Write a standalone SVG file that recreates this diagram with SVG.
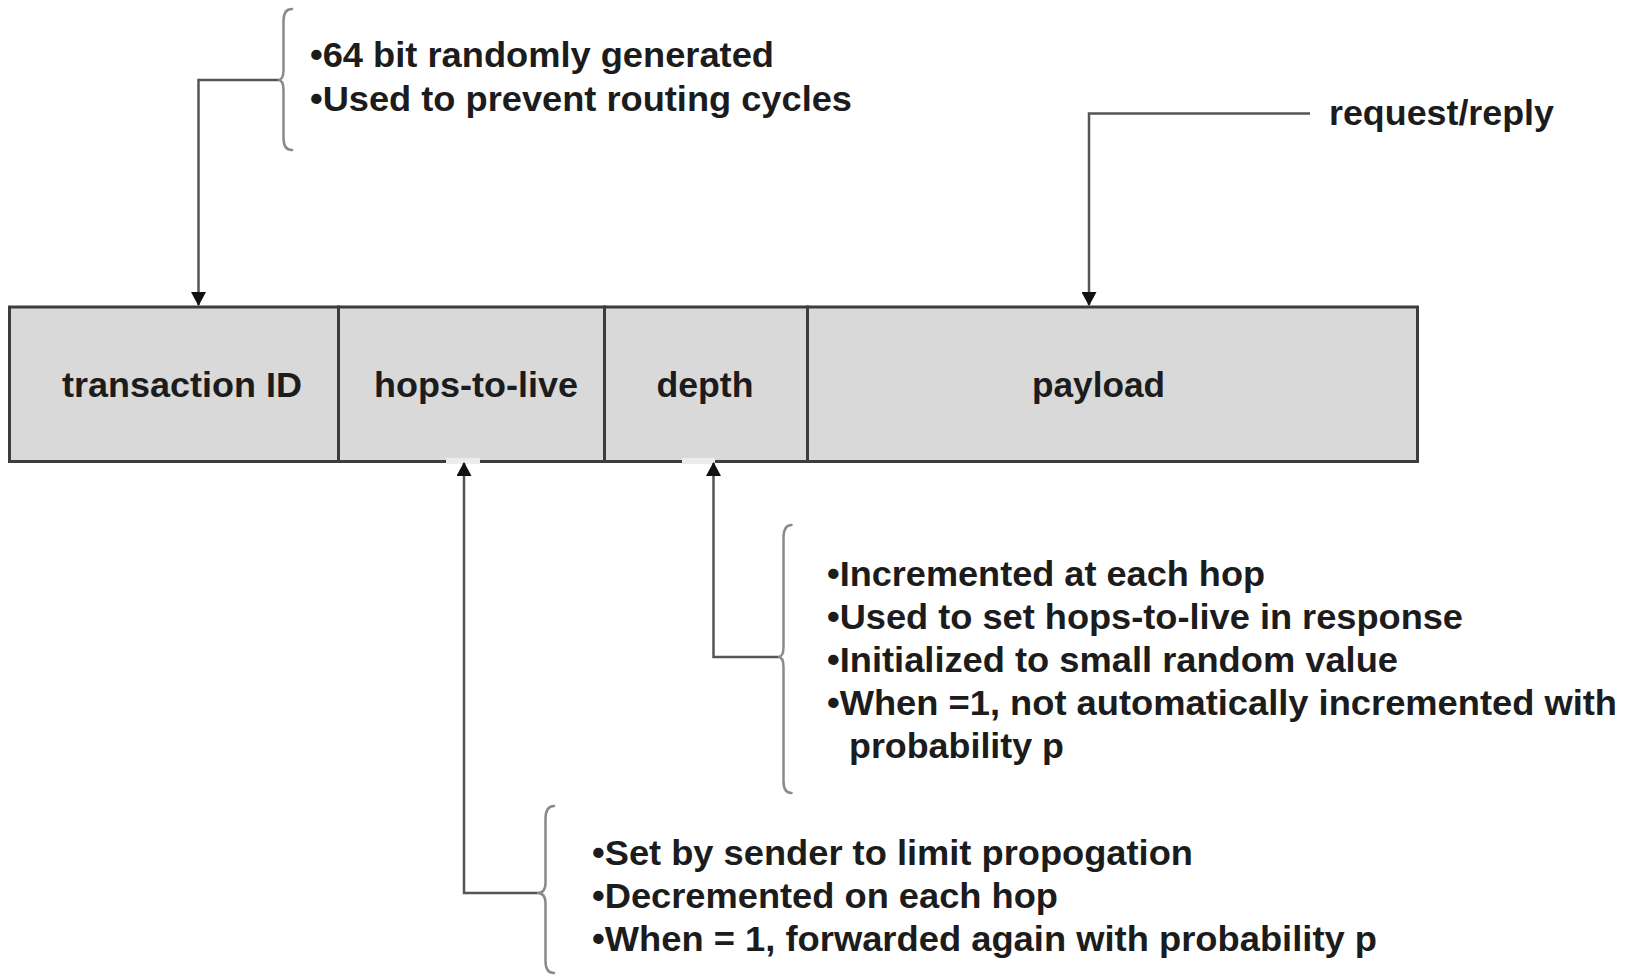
<svg xmlns="http://www.w3.org/2000/svg" width="1629" height="977" viewBox="0 0 1629 977">
  <style>
    .txt { font-family: "Liberation Sans", Arial, sans-serif; font-weight: bold; font-size: 35px; fill: #1c1c1c; }
    .mid { text-anchor: middle; }
    .field { fill: #d9d9d9; stroke: #3c3c3c; stroke-width: 3; }
    .wire { fill: none; stroke: #555555; stroke-width: 2.5; }
    .brace { fill: none; stroke: #8a8a8a; stroke-width: 2.5; stroke-linecap: round; }
  </style>
  <defs>
    <marker id="arrow" viewBox="0 0 14 15" refX="13" refY="7.5" markerWidth="14" markerHeight="15" markerUnits="userSpaceOnUse" orient="auto">
      <path d="M0,0 L14,7.5 L0,15 Z" fill="#111111"/>
    </marker>
  </defs>

  <rect width="1629" height="977" fill="#ffffff"/>

  <!-- message fields -->
  <g id="field-transaction-id">
    <rect class="field" x="9.5" y="307" width="329" height="154.5"/>
    <text class="txt mid" x="182" y="397" textLength="240" lengthAdjust="spacingAndGlyphs">transaction ID</text>
  </g>
  <g id="field-hops-to-live">
    <rect class="field" x="338.5" y="307" width="266" height="154.5"/>
    <text class="txt mid" x="476" y="397" textLength="204" lengthAdjust="spacingAndGlyphs">hops-to-live</text>
  </g>
  <g id="field-depth">
    <rect class="field" x="604.5" y="307" width="203" height="154.5"/>
    <text class="txt mid" x="705" y="397" textLength="97" lengthAdjust="spacingAndGlyphs">depth</text>
  </g>
  <g id="field-payload">
    <rect class="field" x="807.5" y="307" width="610" height="154.5"/>
    <text class="txt mid" x="1098.5" y="397" textLength="133" lengthAdjust="spacingAndGlyphs">payload</text>
  </g>
  <!-- openings in the lower edge where the arrows enter -->
  <rect x="446" y="458" width="34" height="6" fill="#ececec"/>
  <rect x="682" y="458" width="33" height="6" fill="#ececec"/>

  <!-- annotations -->
  <g id="note-transaction-id">
    <path class="brace" d="M292,9 Q283.5,9 283.5,21 L283.5,70 Q283.5,80 278,80 Q283.5,80 283.5,90 L283.5,138 Q283.5,150 292,150"/>
    <text class="txt" x="310" y="67" textLength="464" lengthAdjust="spacingAndGlyphs">•64 bit randomly generated</text>
    <text class="txt" x="310" y="111" textLength="542" lengthAdjust="spacingAndGlyphs">•Used to prevent routing cycles</text>
  </g>
  <g id="note-payload">
    <text class="txt" x="1329" y="125" textLength="225" lengthAdjust="spacingAndGlyphs">request/reply</text>
  </g>
  <g id="note-depth">
    <path class="brace" d="M791.5,525 Q783.5,525 783.5,538 L783.5,647 Q783.5,657 778,657 Q783.5,657 783.5,667 L783.5,781 Q783.5,793 791.5,793"/>
    <text class="txt" x="827" y="586" textLength="438" lengthAdjust="spacingAndGlyphs">•Incremented at each hop</text>
    <text class="txt" x="827" y="629" textLength="636" lengthAdjust="spacingAndGlyphs">•Used to set hops-to-live in response</text>
    <text class="txt" x="827" y="672" textLength="571" lengthAdjust="spacingAndGlyphs">•Initialized to small random value</text>
    <text class="txt" x="827" y="715" textLength="790" lengthAdjust="spacingAndGlyphs">•When =1, not automatically incremented with</text>
    <text class="txt" x="849" y="758" textLength="215" lengthAdjust="spacingAndGlyphs">probability p</text>
  </g>
  <g id="note-hops-to-live">
    <path class="brace" d="M554,806 Q545.5,806 545.5,819 L545.5,883 Q545.5,893 537,893 Q545.5,893 545.5,903 L545.5,961 Q545.5,973 554,973"/>
    <text class="txt" x="592" y="865" textLength="601" lengthAdjust="spacingAndGlyphs">•Set by sender to limit propogation</text>
    <text class="txt" x="592" y="908" textLength="466" lengthAdjust="spacingAndGlyphs">•Decremented on each hop</text>
    <text class="txt" x="592" y="951" textLength="785" lengthAdjust="spacingAndGlyphs">•When = 1, forwarded again with probability p</text>
  </g>

  <!-- connectors -->
  <g id="connectors">
    <path class="wire" d="M278,80 L198.5,80 L198.5,305" marker-end="url(#arrow)"/>
    <path class="wire" d="M1310,113.5 L1089,113.5 L1089,305" marker-end="url(#arrow)"/>
    <path class="wire" d="M537,893 L464,893 L464,463" marker-end="url(#arrow)"/>
    <path class="wire" d="M778,657 L713.5,657 L713.5,463" marker-end="url(#arrow)"/>
  </g>
</svg>
